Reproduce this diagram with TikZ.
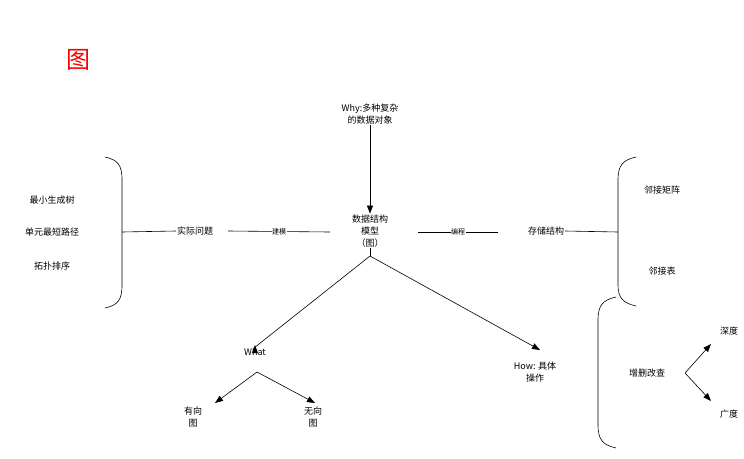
\documentclass[tikz,border=0pt]{standalone}
\usepackage{fontspec}
\setmainfont{Noto Sans CJK SC}
\newfontfamily\cjk{Noto Sans CJK SC}
\usetikzlibrary{arrows.meta}
\begin{document}
\begin{tikzpicture}[x=1pt,y=-1pt,
  t/.style={font=\fontsize{9}{12}\selectfont,align=center,inner sep=1pt},
  ln/.style={line width=0.6pt},
  ar/.style={ln,-{Triangle[length=8pt,width=6pt]}},
  lab/.style={font=\fontsize{7}{8}\selectfont,fill=white,inner sep=0.5pt}]
\useasboundingbox (0,0) rectangle (744,458);
\node[text=red,font=\fontsize{24}{26}\selectfont] (title) at (78,60) {图};
\node[t] (why) at (370,114) {Why:多种复杂\\的数据对象};
\node[t] (model) at (370,231) {数据结构\\模型\\（图）};
\node[t] (a1) at (52,200) {最小生成树};
\node[t] (a2) at (52,232) {单元最短路径};
\node[t] (a3) at (52,266) {拓扑排序};
\node[t] (real) at (195,231) {实际问题};
\node[t] (store) at (546,231) {存储结构};
\node[t] (m1) at (662,190) {邻接矩阵};
\node[t] (m2) at (662,271) {邻接表};
\node[t] (ops) at (647,373) {增删改查};
\node[t] (deep) at (729,331) {深度};
\node[t] (wide) at (729,414) {广度};
\node[t] (what) at (255,352) {What};
\node[t] (dir) at (193,417) {有向\\图};
\node[t] (undir) at (313,417) {无向\\图};
\node[t] (how) at (535,372) {How: 具体\\操作};
\coordinate (top) at (370,256);
\coordinate (wb) at (257,372);
\coordinate (ob) at (685,373);
% braces
\draw[ln] (105,157) .. controls (118,160) and (122,165) .. (122,180) -- (122,285) .. controls (122,300) and (118,305) .. (105,308);
\draw[ln] (122,232) -- (real.west);
\draw[ln] (636,157) .. controls (623,160) and (618,165) .. (618,180) -- (618,285) .. controls (618,298) and (623,303) .. (636,306);
\draw[ln] (store.east) -- (618,232);
\draw[ln] (616,297) .. controls (603,300) and (598,305) .. (598,320) -- (598,425) .. controls (598,440) and (603,445) .. (616,448);
% connectors
\draw[ar] (why) -- (model);
\draw[ln] (real.east) ++(14,0) -- (330,232) node[lab,midway] {建模};
\draw[ln] (418,232) -- (498,232) node[lab,midway] {编程};
\draw[ar] (top) -- (what.north) ++(0,-2);
\draw[ln] (model.south) -- (top);
\draw[ar] (top) -- (540,350);
\draw[ar] (wb) -- (215,403);
\draw[ar] (wb) -- (315,403);
\draw[ar] (ob) -- (711,344);
\draw[ar] (ob) -- (711,401);
\end{tikzpicture}
\end{document}
